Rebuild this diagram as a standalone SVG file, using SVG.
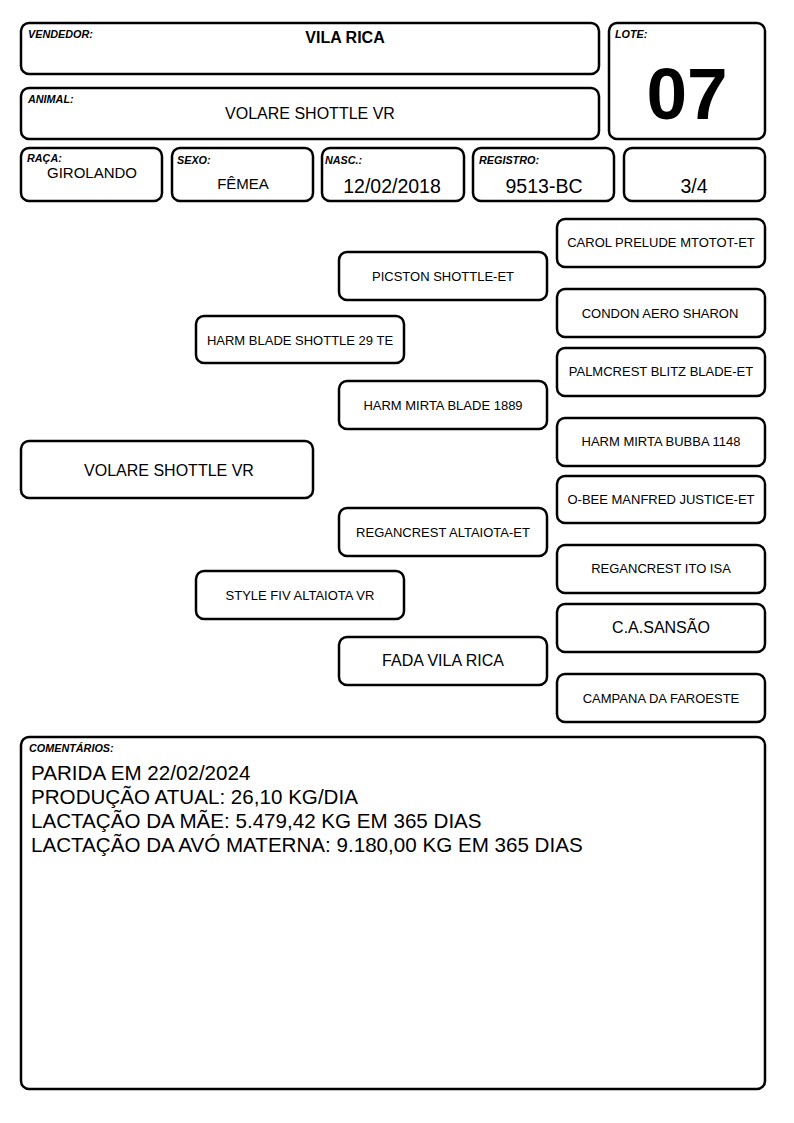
<svg xmlns="http://www.w3.org/2000/svg" width="794" height="1123" viewBox="0 0 794 1123">
<style>
.box{fill:#fff;stroke:#000;stroke-width:2.5}
.lbl{font-family:"Liberation Sans",Arial,sans-serif;font-size:10.8px;font-weight:bold;font-style:italic}
.t{font-family:"Liberation Sans",Arial,sans-serif;text-anchor:middle;fill:#000}
.p{font-family:"Liberation Sans",Arial,sans-serif;text-anchor:middle;font-size:13px}
.c{font-family:"Liberation Sans",Arial,sans-serif;font-size:20.6px}
</style>
<rect width="794" height="1123" fill="#fff"/>
<g id="vendedor"><rect class="box" x="21" y="23" width="578" height="51" rx="8"/><text class="lbl" x="28" y="38">VENDEDOR:</text><text class="t" x="345" y="43" font-size="16" font-weight="bold">VILA RICA</text></g>
<g id="animal"><rect class="box" x="21" y="88" width="578" height="51" rx="8"/><text class="lbl" x="28" y="103">ANIMAL:</text><text class="t" x="310" y="119" font-size="16">VOLARE SHOTTLE VR</text></g>
<g id="lote"><rect class="box" x="609" y="23" width="156" height="116" rx="8"/><text class="lbl" x="615" y="38">LOTE:</text><text class="t" x="687" y="119" font-size="73" font-weight="bold">07</text></g>
<g id="raca"><rect class="box" x="21" y="148" width="141" height="53" rx="8"/><text class="lbl" x="27" y="162">RAÇA:</text><text class="t" x="92" y="178" font-size="15">GIROLANDO</text></g>
<g id="sexo"><rect class="box" x="172" y="148" width="141" height="53" rx="8"/><text class="lbl" x="177" y="164">SEXO:</text><text class="t" x="243" y="189" font-size="15">FÊMEA</text></g>
<g id="nasc"><rect class="box" x="322" y="148" width="142" height="53" rx="8"/><text class="lbl" x="325" y="164">NASC.:</text><text class="t" x="392" y="193" font-size="19.5">12/02/2018</text></g>
<g id="registro"><rect class="box" x="473" y="148" width="141" height="53" rx="8"/><text class="lbl" x="479" y="164">REGISTRO:</text><text class="t" x="544" y="193" font-size="19.5">9513-BC</text></g>
<g id="grau"><rect class="box" x="624" y="148" width="141" height="53" rx="8"/><text class="t" x="694" y="193" font-size="19.5">3/4</text></g>
<g id="connectors"></g>
<g id="n-volare"><rect class="box" x="21" y="441" width="292" height="57" rx="8"/><text class="t" x="169" y="476" font-size="16">VOLARE SHOTTLE VR</text></g>
<g id="n-harmblade"><rect class="box" x="196" y="316" width="208" height="47" rx="8"/><text class="p" x="300" y="345">HARM BLADE SHOTTLE 29 TE</text></g>
<g id="n-style"><rect class="box" x="196" y="571" width="208" height="48" rx="8"/><text class="p" x="300" y="600">STYLE FIV ALTAIOTA VR</text></g>
<g id="n-picston"><rect class="box" x="339" y="252" width="208" height="48" rx="8"/><text class="p" x="443" y="281">PICSTON SHOTTLE-ET</text></g>
<g id="n-mirta"><rect class="box" x="339" y="381" width="208" height="48" rx="8"/><text class="p" x="443" y="410">HARM MIRTA BLADE 1889</text></g>
<g id="n-regaltaiota"><rect class="box" x="339" y="508" width="208" height="48" rx="8"/><text class="p" x="443" y="537">REGANCREST ALTAIOTA-ET</text></g>
<g id="n-fada"><rect class="box" x="339" y="637" width="208" height="48" rx="8"/><text class="t" x="443" y="666" font-size="16">FADA VILA RICA</text></g>
<g id="n-carol"><rect class="box" x="557" y="219" width="208" height="48" rx="8"/><text class="p" x="661" y="247">CAROL PRELUDE MTOTOT-ET</text></g>
<g id="n-condon"><rect class="box" x="557" y="289" width="208" height="48" rx="8"/><text class="p" x="660" y="318">CONDON AERO SHARON</text></g>
<g id="n-palmcrest"><rect class="box" x="557" y="348" width="208" height="48" rx="8"/><text class="p" x="661" y="376">PALMCREST BLITZ BLADE-ET</text></g>
<g id="n-bubba"><rect class="box" x="557" y="418" width="208" height="48" rx="8"/><text class="p" x="661" y="446">HARM MIRTA BUBBA 1148</text></g>
<g id="n-obee"><rect class="box" x="557" y="476" width="208" height="47" rx="8"/><text class="p" x="661" y="504">O-BEE MANFRED JUSTICE-ET</text></g>
<g id="n-itoisa"><rect class="box" x="557" y="545" width="208" height="48" rx="8"/><text class="p" x="661" y="573">REGANCREST ITO ISA</text></g>
<g id="n-sansao"><rect class="box" x="557" y="604" width="208" height="48" rx="8"/><text class="t" x="661" y="633" font-size="16">C.A.SANSÃO</text></g>
<g id="n-campana"><rect class="box" x="557" y="674" width="208" height="48" rx="8"/><text class="p" x="661" y="703">CAMPANA DA FAROESTE</text></g>
<g id="comentarios"><rect class="box" x="21" y="737" width="744" height="352" rx="8"/><text class="lbl" x="29" y="752">COMENTÁRIOS:</text>
<text class="c" x="31" y="780">PARIDA EM 22/02/2024</text>
<text class="c" x="31" y="804">PRODUÇÃO ATUAL: 26,10 KG/DIA</text>
<text class="c" x="31" y="828">LACTAÇÃO DA MÃE: 5.479,42 KG EM 365 DIAS</text>
<text class="c" x="31" y="852">LACTAÇÃO DA AVÓ MATERNA: 9.180,00 KG EM 365 DIAS</text></g>
</svg>
